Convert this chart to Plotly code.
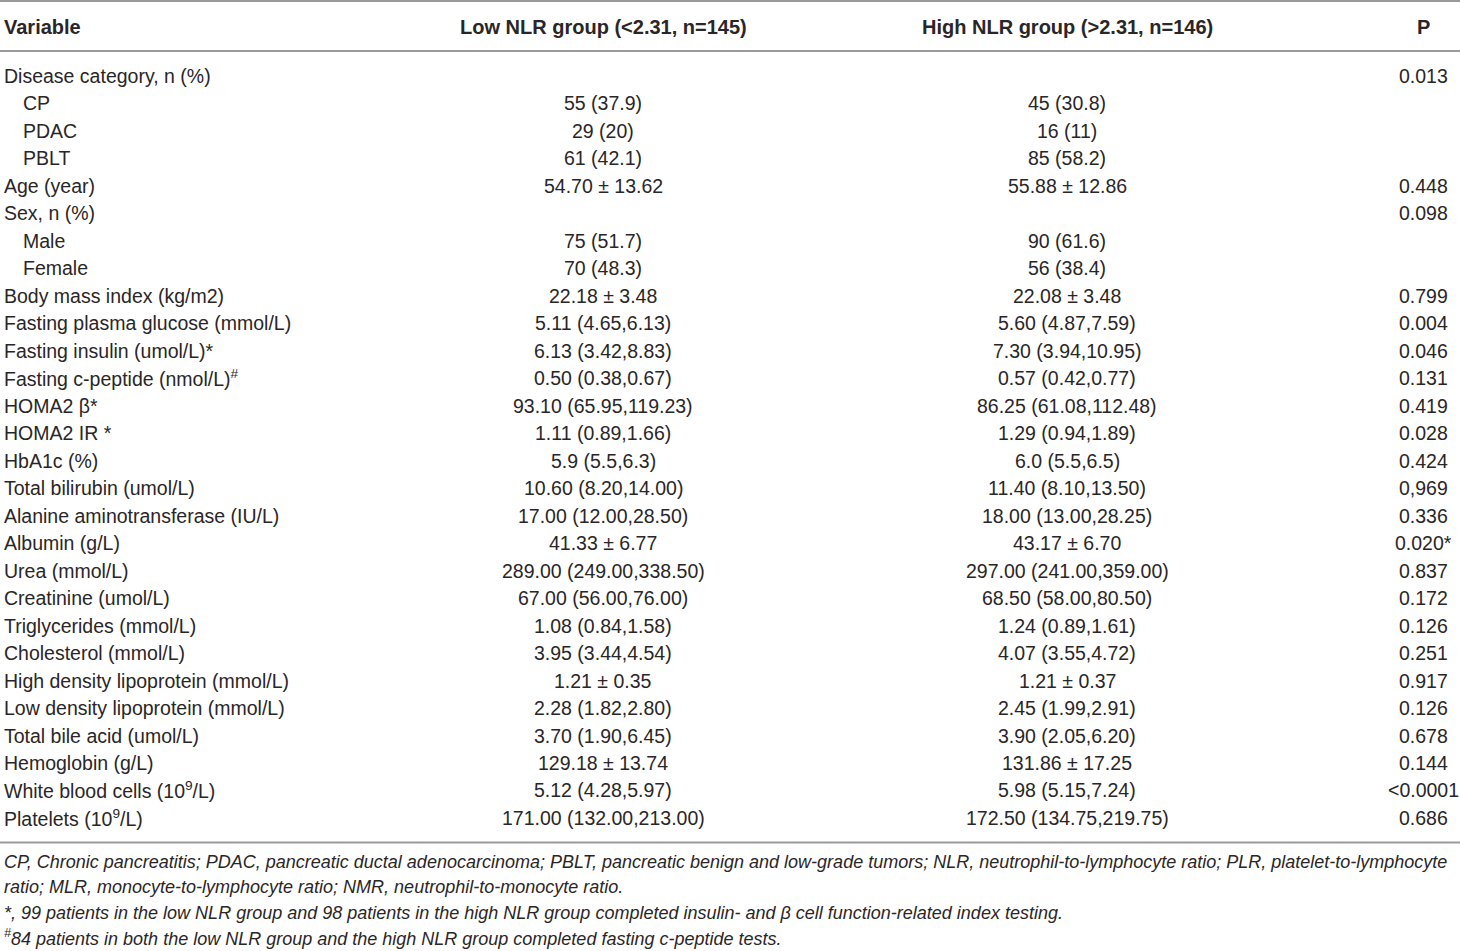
import plotly.graph_objects as go

# table content
header = ["Variable", "Low NLR group (<2.31, n=145)", "High NLR group (>2.31, n=146)", "P"]

variables = [
    "Disease category, n (%)", "CP", "PDAC", "PBLT", "Age (year)", "Sex, n (%)", "Male", "Female",
    "Body mass index (kg/m2)", "Fasting plasma glucose (mmol/L)", "Fasting insulin (umol/L)*",
    "Fasting c-peptide (nmol/L)<sup>#</sup>", "HOMA2 β*", "HOMA2 IR *", "HbA1c (%)",
    "Total bilirubin (umol/L)", "Alanine aminotransferase (IU/L)", "Albumin (g/L)", "Urea (mmol/L)",
    "Creatinine (umol/L)", "Triglycerides (mmol/L)", "Cholesterol (mmol/L)",
    "High density lipoprotein (mmol/L)", "Low density lipoprotein (mmol/L)", "Total bile acid (umol/L)",
    "Hemoglobin (g/L)", "White blood cells (10<sup>9</sup>/L)", "Platelets (10<sup>9</sup>/L)",
]
indented = [False, True, True, True, False, False, True, True] + [False] * 20

low_nlr = [
    "", "55 (37.9)", "29 (20)", "61 (42.1)", "54.70 ± 13.62", "", "75 (51.7)", "70 (48.3)",
    "22.18 ± 3.48", "5.11 (4.65,6.13)", "6.13 (3.42,8.83)", "0.50 (0.38,0.67)", "93.10 (65.95,119.23)",
    "1.11 (0.89,1.66)", "5.9 (5.5,6.3)", "10.60 (8.20,14.00)", "17.00 (12.00,28.50)", "41.33 ± 6.77",
    "289.00 (249.00,338.50)", "67.00 (56.00,76.00)", "1.08 (0.84,1.58)", "3.95 (3.44,4.54)",
    "1.21 ± 0.35", "2.28 (1.82,2.80)", "3.70 (1.90,6.45)", "129.18 ± 13.74", "5.12 (4.28,5.97)",
    "171.00 (132.00,213.00)",
]

high_nlr = [
    "", "45 (30.8)", "16 (11)", "85 (58.2)", "55.88 ± 12.86", "", "90 (61.6)", "56 (38.4)",
    "22.08 ± 3.48", "5.60 (4.87,7.59)", "7.30 (3.94,10.95)", "0.57 (0.42,0.77)", "86.25 (61.08,112.48)",
    "1.29 (0.94,1.89)", "6.0 (5.5,6.5)", "11.40 (8.10,13.50)", "18.00 (13.00,28.25)", "43.17 ± 6.70",
    "297.00 (241.00,359.00)", "68.50 (58.00,80.50)", "1.24 (0.89,1.61)", "4.07 (3.55,4.72)",
    "1.21 ± 0.37", "2.45 (1.99,2.91)", "3.90 (2.05,6.20)", "131.86 ± 17.25", "5.98 (5.15,7.24)",
    "172.50 (134.75,219.75)",
]

p_values = [
    "0.013", "", "", "", "0.448", "0.098", "", "", "0.799", "0.004", "0.046", "0.131", "0.419",
    "0.028", "0.424", "0,969", "0.336", "0.020*", "0.837", "0.172", "0.126", "0.251", "0.917",
    "0.126", "0.678", "0.144", "<0.0001", "0.686",
]

footnotes = [
    "CP, Chronic pancreatitis; PDAC, pancreatic ductal adenocarcinoma; PBLT, pancreatic benign and low-grade tumors; "
    "NLR, neutrophil-to-lymphocyte ratio; PLR, platelet-to-lymphocyte",
    "ratio; MLR, monocyte-to-lymphocyte ratio; NMR, neutrophil-to-monocyte ratio.",
    "*, 99 patients in the low NLR group and 98 patients in the high NLR group completed insulin- and β cell function-related index testing.",
    "<sup>#</sup>84 patients in both the low NLR group and the high NLR group completed fasting c-peptide tests.",
]

W, H = 1460, 951
FONT = "Liberation Sans, Arial, sans-serif"
TXT = "#2a2627"
LINE = "#9a9a9a"
FS = 19.5

# layout (pixels)
header_y = 27
row0_y = 76
row_h = 27.48
foot0_y = 862
foot_h = 25.3
col_x = {"var": 2, "indent": 21, "low": 603, "high": 1067, "p": 1423}

fig = go.Figure()
ann = []

def add(text, x, y, xanchor, bold=False, italic=False, size=FS):
    if bold:
        text = "<b>" + text + "</b>"
    if italic:
        text = "<i>" + text + "</i>"
    ann.append(dict(text=text, x=x, y=y, xref="x", yref="y", xanchor=xanchor, yanchor="middle",
                    showarrow=False, font=dict(family=FONT, size=size, color=TXT)))

add(header[0], col_x["var"], header_y, "left", bold=True, size=20)
add(header[1], col_x["low"], header_y, "center", bold=True, size=20)
add(header[2], col_x["high"], header_y, "center", bold=True, size=20)
add(header[3], col_x["p"], header_y, "center", bold=True, size=20)

for i, (v, ind, lo, hi, p) in enumerate(zip(variables, indented, low_nlr, high_nlr, p_values)):
    y = row0_y + i * row_h
    add(v, col_x["indent"] if ind else col_x["var"], y, "left")
    if lo:
        add(lo, col_x["low"], y, "center")
    if hi:
        add(hi, col_x["high"], y, "center")
    if p:
        add(p, col_x["p"], y, "center")

for j, f in enumerate(footnotes):
    add(f, col_x["var"], foot0_y + j * foot_h, "left", italic=True, size=18)

shapes = []
for yl in [1, 51, 842.5]:
    shapes.append(dict(type="line", xref="x", yref="y", x0=0, x1=W, y0=yl, y1=yl,
                       line=dict(color=LINE, width=2)))

fig.update_layout(
    width=W, height=H,
    margin=dict(l=0, r=0, t=0, b=0),
    paper_bgcolor="white", plot_bgcolor="white",
    xaxis=dict(range=[0, W], visible=False, fixedrange=True),
    yaxis=dict(range=[H, 0], visible=False, fixedrange=True),
    annotations=ann, shapes=shapes,
    showlegend=False,
)

# drop the default page margin so the figure sits at the window's corner
fig.write_html("out.html", config={"displayModeBar": False},
               post_script="document.body.style.margin='0';document.body.style.overflow='hidden';")
